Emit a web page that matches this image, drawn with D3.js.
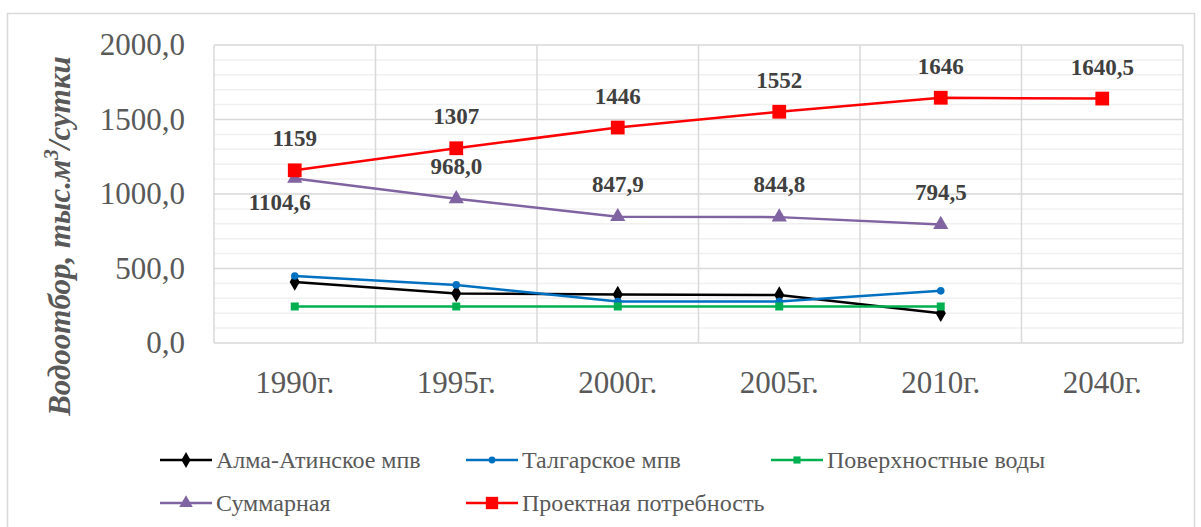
<!DOCTYPE html>
<html>
<head>
<meta charset="utf-8">
<script src="https://cdn.jsdelivr.net/npm/d3@7"></script>
</head>
<body style="margin:0">
<svg id="chart" width="1201" height="527"></svg>
<script>
// categories and series
var years = ["1990г.", "1995г.", "2000г.", "2005г.", "2010г.", "2040г."];
var almaAta = [410, 333, 325, 322, 199.5];
var talgar = [449.6, 390, 277.9, 277.8, 350];
var surface = [245, 245, 245, 245, 245];
var total = [1104.6, 968.0, 847.9, 844.8, 794.5];
var project = [1159, 1307, 1446, 1552, 1646, 1640.5];
var totalLabels = ["1104,6", "968,0", "847,9", "844,8", "794,5"];
var projectLabels = ["1159", "1307", "1446", "1552", "1646", "1640,5"];
var yTicks = [0, 500, 1000, 1500, 2000];

var FONT = "'Liberation Serif'";
var svg = d3.select("#chart");

// outer chart border
svg.append("rect")
    .attr("x", 7.5).attr("y", 13.5)
    .attr("width", 1187).attr("height", 530)
    .attr("fill", "none").attr("stroke", "#d9d9d9").attr("stroke-width", 1.5);

var x = d3.scaleBand().domain(years).range([214, 1183]);
var y = d3.scaleLinear().domain([0, 2000]).range([343, 45]);
var cx = function(i) { return x(years[i]) + x.bandwidth() / 2; };

// minor gridlines
svg.append("g").selectAll("line")
    .data(d3.range(100, 2000, 100).filter(function(v) { return v % 500 !== 0; }))
    .enter().append("line")
    .attr("x1", 214).attr("x2", 1183)
    .attr("y1", function(d) { return y(d); }).attr("y2", function(d) { return y(d); })
    .attr("stroke", "#f0f0f0").attr("stroke-width", 1.5);

// major gridlines
svg.append("g").selectAll("line")
    .data(yTicks)
    .enter().append("line")
    .attr("x1", 214).attr("x2", 1183)
    .attr("y1", function(d) { return y(d); }).attr("y2", function(d) { return y(d); })
    .attr("stroke", "#d9d9d9").attr("stroke-width", 1.5);

// vertical gridlines on category boundaries
svg.append("g").selectAll("line")
    .data(years.concat(["end"]))
    .enter().append("line")
    .attr("x1", function(d, i) { return 214 + i * x.bandwidth(); })
    .attr("x2", function(d, i) { return 214 + i * x.bandwidth(); })
    .attr("y1", y(2000)).attr("y2", y(0))
    .attr("stroke", "#d9d9d9").attr("stroke-width", 1.5);

// y tick labels
svg.append("g").selectAll("text")
    .data(yTicks)
    .enter().append("text")
    .attr("x", 185).attr("y", function(d) { return y(d); })
    .attr("dy", "0.33em")
    .attr("text-anchor", "end")
    .attr("font-size", 31).attr("fill", "#595959")
    .style("font-family", FONT)
    .text(function(d) { return d3.format(".1f")(d).replace(".", ","); });

// x tick labels
svg.append("g").selectAll("text")
    .data(years)
    .enter().append("text")
    .attr("x", function(d, i) { return cx(i); }).attr("y", 393)
    .attr("text-anchor", "middle")
    .attr("font-size", 31).attr("fill", "#595959")
    .style("font-family", FONT)
    .text(function(d) { return d; });

// y axis title
var title = svg.append("text")
    .attr("transform", "translate(70,236) rotate(-90)")
    .attr("text-anchor", "middle")
    .attr("font-size", 31).attr("font-weight", "bold").attr("font-style", "italic")
    .attr("fill", "#595959")
    .style("font-family", FONT);
title.append("tspan").text("Водоотбор, тыс.м");
title.append("tspan").attr("font-size", 21).attr("baseline-shift", "super").text("3");
title.append("tspan").text("/сутки");

// series
var series = [
  { name: "Алма-Атинское мпв", values: almaAta, color: "#000000", width: 2.5, marker: "diamond", size: 90 },
  { name: "Талгарское мпв", values: talgar, color: "#0070c0", width: 2.5, marker: "circle", size: 45 },
  { name: "Поверхностные воды", values: surface, color: "#00b050", width: 2.5, marker: "square", size: 64 },
  { name: "Суммарная", values: total, color: "#8064a2", width: 2.5, marker: "triangle", size: 100 },
  { name: "Проектная потребность", values: project, color: "#ff0000", width: 2.5, marker: "square", size: 190 }
];
var symbols = {
  diamond: d3.symbolDiamond, circle: d3.symbolCircle,
  square: d3.symbolSquare, triangle: d3.symbolTriangle
};

var line = d3.line()
    .x(function(d, i) { return cx(i); })
    .y(function(d) { return y(d); });

series.forEach(function(s) {
  var g = svg.append("g");
  g.append("path")
      .attr("d", line(s.values))
      .attr("fill", "none").attr("stroke", s.color).attr("stroke-width", s.width);
  g.selectAll("path.m")
      .data(s.values)
      .enter().append("path").attr("class", "m")
      .attr("transform", function(d, i) { return "translate(" + cx(i) + "," + y(d) + ")"; })
      .attr("d", d3.symbol().type(symbols[s.marker]).size(s.size))
      .attr("fill", s.color);
});

// data labels
var labelStyle = function(sel) {
  sel.attr("text-anchor", "middle").attr("dy", "0.35em")
     .attr("font-size", 23).attr("font-weight", "bold").attr("fill", "#404040")
     .style("font-family", FONT);
};
svg.append("g").selectAll("text")
    .data(project)
    .enter().append("text")
    .attr("x", function(d, i) { return cx(i); })
    .attr("y", function(d) { return y(d) - 32; })
    .call(labelStyle)
    .text(function(d, i) { return projectLabels[i]; });

svg.append("g").selectAll("text")
    .data(total)
    .enter().append("text")
    .attr("x", function(d, i) { return cx(i) - (i === 0 ? 15 : 0); })
    .attr("y", function(d, i) { return y(d) + (i === 0 ? 24 : -33); })
    .call(labelStyle)
    .text(function(d, i) { return totalLabels[i]; });

// legend
var legendPos = [[160, 460], [466, 460], [771, 460], [160, 503], [466, 503]];
series.forEach(function(s, i) {
  var g = svg.append("g")
      .attr("transform", "translate(" + legendPos[i][0] + "," + legendPos[i][1] + ")");
  g.append("line")
      .attr("x1", 0).attr("x2", 52)
      .attr("stroke", s.color).attr("stroke-width", s.width);
  g.append("path")
      .attr("transform", "translate(26,0)")
      .attr("d", d3.symbol().type(symbols[s.marker]).size(s.size * 0.8))
      .attr("fill", s.color);
  g.append("text")
      .attr("x", 56).attr("dy", "0.35em")
      .attr("font-size", 24).attr("fill", "#595959")
      .style("font-family", FONT)
      .text(s.name);
});
</script>
</body>
</html>
